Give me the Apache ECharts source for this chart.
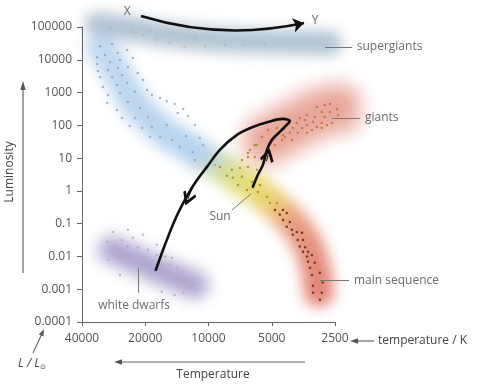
<!DOCTYPE html>
<html><head><meta charset="utf-8">
<script src="https://cdn.jsdelivr.net/npm/echarts@6/dist/echarts.min.js"></script>
<style>
html,body{margin:0;padding:0;background:#fff;}
#wrap{position:relative;width:491px;height:384px;overflow:hidden;background:#fff;}
#bg,#fg{position:absolute;left:0;top:0;width:491px;height:384px;}
#bg{filter:blur(7px);}
</style></head><body>
<div id="wrap"><div id="bg"></div><div id="fg"></div></div>
<script>
// ---------- data (temperature in K, luminosity in L/Lsun) ----------
const tempTicks = [2500, 5000, 10000, 20000, 40000];
const lumTicks = ['0.0001','0.001','0.01','0.1','1','10','100','1000','10000','100000'];

const sgBand = [[34000,123000],[23600,87000],[15200,57000],[9800,43000],[6350,37400],[4090,34900],[2640,32600]];
const msBand = [[32800,22900],[30100,11300],[26950,3440],[23100,595],[19000,146],[16100,59],[12900,25],[10400,10.1],[8350,4.4],[6700,1.75],[5380,0.66],[4320,0.19],[3670,0.056],[3290,0.016],[3080,0.0039],[2980,0.00083]];
const giantBand = [[5210,36],[3880,103],[2950,240],[2420,317]];
const wdBand = [[28800,0.016],[21200,0.0068],[15200,0.0027],[11600,0.00136]];

const sgDots = [[29400,93000],[26400,81000],[23100,70000],[20500,57000],[17600,40000],[15300,33000],[13000,25000],[10400,26000],[8350,28000],[6700,28000],[5400,30000],[19000,81000],[11600,46000]];
const msBlueDots = [[32800,26000],[28800,30000],[33900,12000],[31100,14000],[27000,16000],[24400,20000],
[33900,7450],[29400,8570],[26400,9860],[22900,11300],[33600,4560],[30100,4890],[27000,5620],[24200,6030],
[32800,2990],[28800,2990],[25800,3440],[21700,3960],[31800,1490],[27300,1710],[24400,1970],[20500,2420],
[30100,845],[26400,975],[22400,1050],[19600,1200],[30400,482],[24200,517],[18600,845],[17000,685],[15800,555],[14500,449],[13200,317],
[27300,295],[21200,340],[14000,239],[12500,194],[25800,168],[22400,168],[19400,181],
[23700,96],[20700,83],[18600,89],[15800,103],[11600,103],[19000,44],[17000,44],[14900,36],[12800,47],[11000,41],
[13700,22],[11900,15],[10600,25],[11600,8.8],[9300,6.2]];
const msYellowDots = [[6350,17.8],[5880,25],[6930,8.8],[6490,10.9],[6020,10.9],[7740,4.4],[7080,5.0],[6490,5.4],[5880,4.4],[7660,2.5],[6930,2.7],[6220,1.9],[7240,1.5],[6560,1.07],[5690,1.5],[5820,0.93],[5270,0.66],[5100,0.43],[4730,0.43],[8830,5.4],[8170,2.9]];
const msRedDots = [[4830,0.26],[4420,0.26],[4580,0.19],[4240,0.21],[4420,0.13],[4100,0.113],[4240,0.080],[4010,0.065],[3800,0.056],[3590,0.053],[3970,0.046],[3760,0.032],[3550,0.032],[3680,0.020],[3470,0.019],[3360,0.014],[3550,0.014],[3400,0.0099],[3220,0.011],[3360,0.0069],[3120,0.0064],[3290,0.0045],[2950,0.0032],[3220,0.0027],[2860,0.0016],[3180,0.00127],[2890,0.00078],[3180,0.00078],[2950,0.00048]];
const giantDots = [[3050,364],[2800,419],[2640,449],[2450,317],[2890,257],[2640,257],[2420,208],[3400,208],[3120,181],[2800,181],[3680,168],[3470,146],[3180,127],[2890,118],[2590,118],[3800,118],[3400,103],[3050,89],[2730,103],[3970,83],[3590,83],[3220,72],[2890,83],[4100,59],[3760,59],[3400,59],[4330,44],[4010,36],[4470,36],[4830,25],[5210,22],[4730,83],[5210,72],[5570,44],[6020,25],[6490,14.4],[4420,51]];
const wdDots = [[28500,0.056],[24200,0.065],[20500,0.046],[30400,0.028],[25800,0.032],[22900,0.037],[17600,0.023],[27900,0.019],[24200,0.020],[21700,0.019],[19400,0.016],[17600,0.011],[30100,0.0079],[25000,0.0099],[20700,0.0092],[16100,0.0099],[14900,0.0092],[26400,0.0027],[17000,0.0055],[15300,0.0055],[14000,0.0045],[13200,0.0034],[14500,0.0022],[13000,0.0017],[16700,0.00083],[14500,0.00067],[13200,0.00078]];

const trackPath = [[17800,0.0039],[16100,0.023],[14450,0.13],[12950,0.53],[11600,1.75],[10170,5.4],[8830,17.8],[7320,51],[6150,89],[5210,127],[4420,157],[4100,136],[4290,96],[4580,63],[4990,36],[5270,17.8],[5510,6.2],[5820,3.1],[6150,1.33]];
// short pieces of the track whose end carries the direction chevron
const trackArrowSegs = [[[5300,8],[5210,12.5]],[[11900,1.3],[12530,0.57]]];
const xyArc = [[20950,216000],[3510,132000]];

const labelNames = ['supergiants','giants','main sequence','white dwarfs','Sun','X','Y'];
const labelAnchors = [[1970,24600],[1800,168],[2030,0.0019],[22600,0.00031],[8810,0.16],[24400,286000],[3110,160000]];
const leaderLines = [[[2790,24600],[2075,24600]],[[2580,168],[1900,168]],[[2950,0.0019],[2145,0.0019]],[[21650,0.0045],[21650,0.00078]],[[6280,0.81],[7730,0.26]]];

// ---------- helpers ----------
const tx = T => Math.log2(T / 2500);   // octaves above 2500 K
const ly = L => Math.log10(L);          // decades of luminosity
const P = d => [tx(d[0]), ly(d[1])];
const FONT = "'Open Sans', 'DejaVu Sans', sans-serif";
const grid = {left:82, right:156, top:27, bottom:62, containLabel:false, outerBoundsMode:'none'};

function axes(show){
  return {
    xAxis:{type:'value', min:0, max:4, interval:1, inverse:true, show:show,
      axisLine:{show:true, onZero:false, lineStyle:{color:'#666', width:1}},
      axisTick:{show:true, length:4, lineStyle:{color:'#666'}},
      splitLine:{show:false},
      axisLabel:{margin:11, color:'#555', fontSize:12, fontFamily:FONT,
        formatter:v => String(tempTicks[Math.round(v)])}},
    yAxis:{type:'value', min:-4, max:5, interval:1, show:show,
      axisLine:{show:true, onZero:false, lineStyle:{color:'#666', width:1}},
      axisTick:{show:true, length:5, lineStyle:{color:'#666'}},
      splitLine:{show:false},
      axisLabel:{margin:10, color:'#555', fontSize:12, fontFamily:FONT,
        formatter:v => lumTicks[Math.round(v) + 4]}}
  };
}

// ---------- blurred background bands ----------
const bg = echarts.init(document.getElementById('bg'), null, {renderer:'canvas'});
const band = (data, width, color, opacity) => ({
  type:'line', data:data.map(P), smooth:0.4, symbol:'none', clip:false, silent:true,
  lineStyle:{width:width, color:color, opacity:opacity, cap:'round', join:'round'}
});
bg.setOption(Object.assign({
  animation:false, backgroundColor:'transparent', grid:grid,
  series:[
    band(sgBand, 24, '#a3b8ca', 0.85),
    band(msBand, 30, new echarts.graphic.LinearGradient(0,0,1,1,[
      {offset:0, color:'#b4d1ee'},{offset:0.46, color:'#a4c7ea'},{offset:0.54, color:'#d2d672'},
      {offset:0.61, color:'#e2d44c'},{offset:0.68, color:'#e8c050'},{offset:0.76, color:'#e2805e'},
      {offset:1, color:'#d95e50'}]), 0.8),
    band(giantBand, 62, '#eeb8ae', 0.55),
    band(giantBand, 38, '#e39586', 0.7),
    band(wdBand, 34, '#c2b9dc', 0.6),
    band(wdBand, 20, '#a397c8', 0.8)
  ]
}, axes(false)));

// ---------- foreground ----------
const fg = echarts.init(document.getElementById('fg'), null, {renderer:'canvas'});
const dots = (data, color, op) => ({
  type:'scatter', data:data.map(P), symbolSize:2.5, clip:false, silent:true,
  itemStyle:{color:color, opacity:op}
});
const chevron = 'path://M6.5,0L13,8L11.2,9.4L6.5,3.7L1.8,9.4L0,8Z';

fg.setOption(Object.assign({
  animation:false, backgroundColor:'transparent', grid:grid,
  textStyle:{fontFamily:FONT},
  series:[
    dots(sgDots, '#bdb77a', 0.55),
    dots(msBlueDots, '#98a2b2', 0.8),
    dots(msYellowDots, '#a88c2c', 0.85),
    dots(msRedDots, '#6e2a20', 0.9),
    dots(giantDots, '#bf7a48', 0.9),
    dots(wdDots, '#b9a9ba', 0.8),
    {type:'line', data:trackPath.map(P), smooth:0.35, symbol:'none', clip:false, silent:true,
     lineStyle:{width:2.6, color:'#111', cap:'round', join:'round'}},
    {type:'lines', coordinateSystem:'cartesian2d', clip:false, silent:true,
     symbol:['none', chevron], symbolSize:14,
     lineStyle:{color:'#111', width:1, opacity:1},
     data:trackArrowSegs.map(s => ({coords:s.map(P)}))},
    {type:'lines', coordinateSystem:'cartesian2d', clip:false, silent:true,
     symbol:['none','arrow'], symbolSize:11,
     lineStyle:{color:'#111', width:2.5, curveness:-0.13, opacity:1},
     data:[{coords:xyArc.map(P)}]},
    {type:'lines', coordinateSystem:'cartesian2d', clip:false, silent:true,
     lineStyle:{color:'#777', width:1, opacity:1},
     data:leaderLines.map(l => ({coords:l.map(P)}))},
    {type:'scatter', clip:false, silent:true, symbolSize:0,
     label:{show:true, color:'#444', fontSize:12, fontFamily:FONT, formatter:p => p.name},
     data:labelAnchors.map((d,i) => ({name:labelNames[i], value:P(d),
       label:{position:(i < 3 ? 'right' : 'inside'), distance:0}}))}
  ],
  graphic:[
    {type:'text', x:10, y:172, rotation:Math.PI/2, style:{text:'Luminosity', fill:'#444', fontSize:12, fontFamily:FONT, align:'center', verticalAlign:'middle'}},
    {type:'line', shape:{x1:23, y1:273, x2:23, y2:88}, style:{stroke:'#666', lineWidth:1.2}},
    {type:'polygon', shape:{points:[[23,81],[20.3,90],[25.7,90]]}, style:{fill:'#555'}},
    {type:'line', shape:{x1:121, y1:362, x2:305, y2:362}, style:{stroke:'#666', lineWidth:1.2}},
    {type:'polygon', shape:{points:[[114,362],[122,359.3],[122,364.7]]}, style:{fill:'#555'}},
    {type:'text', x:213, y:375, style:{text:'Temperature', fill:'#444', fontSize:12, fontFamily:FONT, align:'center', verticalAlign:'middle'}},
    {type:'line', shape:{x1:357, y1:341, x2:374, y2:341}, style:{stroke:'#666', lineWidth:1.2}},
    {type:'polygon', shape:{points:[[350,341],[358,338.3],[358,343.7]]}, style:{fill:'#555'}},
    {type:'text', x:378, y:341, style:{text:'temperature / K', fill:'#444', fontSize:12, fontFamily:FONT, align:'left', verticalAlign:'middle'}},
    {type:'line', shape:{x1:33, y1:353, x2:41.1, y2:335.4}, style:{stroke:'#666', lineWidth:1.1}},
    {type:'polygon', shape:{points:[[44,329],[43.4,336.4],[38.8,334.4]]}, style:{fill:'#555'}},
    {type:'text', x:32, y:364, style:{
      text:'{a|L / L}{s|⊙}', align:'center', verticalAlign:'middle',
      rich:{a:{fontSize:12, fontStyle:'italic', fill:'#444', fontFamily:FONT},
            s:{fontSize:7, fill:'#444', fontFamily:FONT, padding:[6,0,0,0]}}}}
  ]
}, axes(true)));
</script>
</body></html>
